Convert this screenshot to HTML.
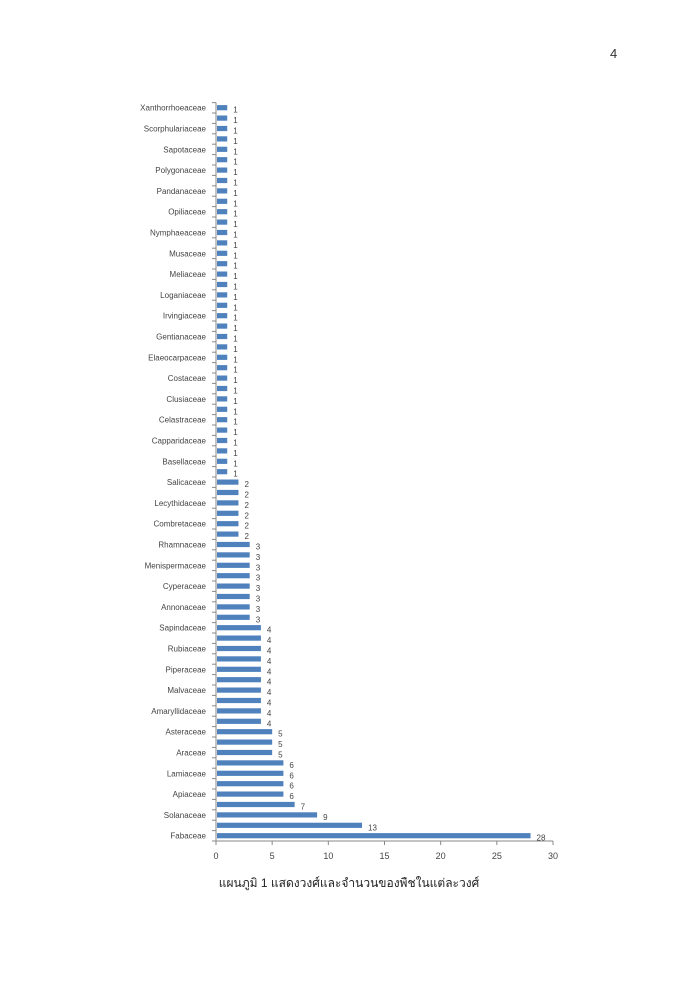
<!DOCTYPE html>
<html><head><meta charset="utf-8"><style>
body{margin:0;background:#fff;width:700px;height:990px;overflow:hidden}
svg{display:block}
text{font-family:"Liberation Sans",sans-serif}
</style></head><body>
<svg width="700" height="990">
<text x="610" y="58" font-size="13" fill="#333">4</text>
<g id="chart"></g>
<text x="349" y="887" font-size="12" text-anchor="middle" fill="#222" style='font-family:"Liberation Sans","Noto Sans CJK SC",sans-serif'>แผนภูมิ 1 แสดงวงศ์และจำนวนของพืชในแต่ละวงศ์</text>
</svg>
<script>
const values=[28,13,9,7,6,6,6,6,5,5,5,4,4,4,4,4,4,4,4,4,4,3,3,3,3,3,3,3,3,2,2,2,2,2,2,1,1,1,1,1,1,1,1,1,1,1,1,1,1,1,1,1,1,1,1,1,1,1,1,1,1,1,1,1,1,1,1,1,1,1,1];
const labels=["Fabaceae","Solanaceae","Apiaceae","Lamiaceae","Araceae","Asteraceae","Amaryllidaceae","Malvaceae","Piperaceae","Rubiaceae","Sapindaceae","Annonaceae","Cyperaceae","Menispermaceae","Rhamnaceae","Combretaceae","Lecythidaceae","Salicaceae","Basellaceae","Capparidaceae","Celastraceae","Clusiaceae","Costaceae","Elaeocarpaceae","Gentianaceae","Irvingiaceae","Loganiaceae","Meliaceae","Musaceae","Nymphaeaceae","Opiliaceae","Pandanaceae","Polygonaceae","Sapotaceae","Scorphulariaceae","Xanthorrhoeaceae"];
const xTicks=[0,5,10,15,20,25,30];
const NS="http://www.w3.org/2000/svg";
const g=document.getElementById('chart');
const x0=216,x1=553,xMax=30,yBottom=835.7,step=10.4,axisY=841;
const xs=v=>x0+(x1-x0)*v/xMax;
const ys=i=>yBottom-i*step;
function mk(t,a){const e=document.createElementNS(NS,t);for(const k in a)e.setAttribute(k,a[k]);g.appendChild(e);return e;}
let ax=mk('line',{x1:x0,y1:axisY,x2:x1,y2:axisY,stroke:'#888','stroke-width':1});


let ay=mk('line',{x1:x0,y1:ys(values.length-1)-step/2,x2:x0,y2:axisY,stroke:'#888','stroke-width':1});


for(let i=0;i<=values.length;i++){
  const yy=axisY-i*step;
  const t=mk('line',{x1:x0-4,y1:yy,x2:x0,y2:yy,stroke:'#888','stroke-width':1});
  
  
}
xTicks.forEach(v=>{
  const t=mk('line',{x1:xs(v),y1:axisY,x2:xs(v),y2:axisY+4,stroke:'#888','stroke-width':1});
  
  
  const l=mk('text',{x:xs(v),y:axisY+18,'font-size':9,'text-anchor':'middle',fill:'#444'});
  l.textContent=v;
  
  
});
values.forEach((v,i)=>{
  const y=ys(i);
  const b=mk('rect',{x:x0+1,y:y-2.6,width:xs(v)-x0-1,height:5.2,fill:'#4f81bd'});
  
  
  const t=mk('text',{x:xs(v)+6,y:y+5,'font-size':8,fill:'#444'});
  t.textContent=v;
  
  
  if(i%2===0){
    const l=mk('text',{x:x0-10,y:y+3,'font-size':8,'text-anchor':'end',fill:'#444'});
    l.textContent=labels[i/2];
    
    
  }
});
</script>
</body></html>
